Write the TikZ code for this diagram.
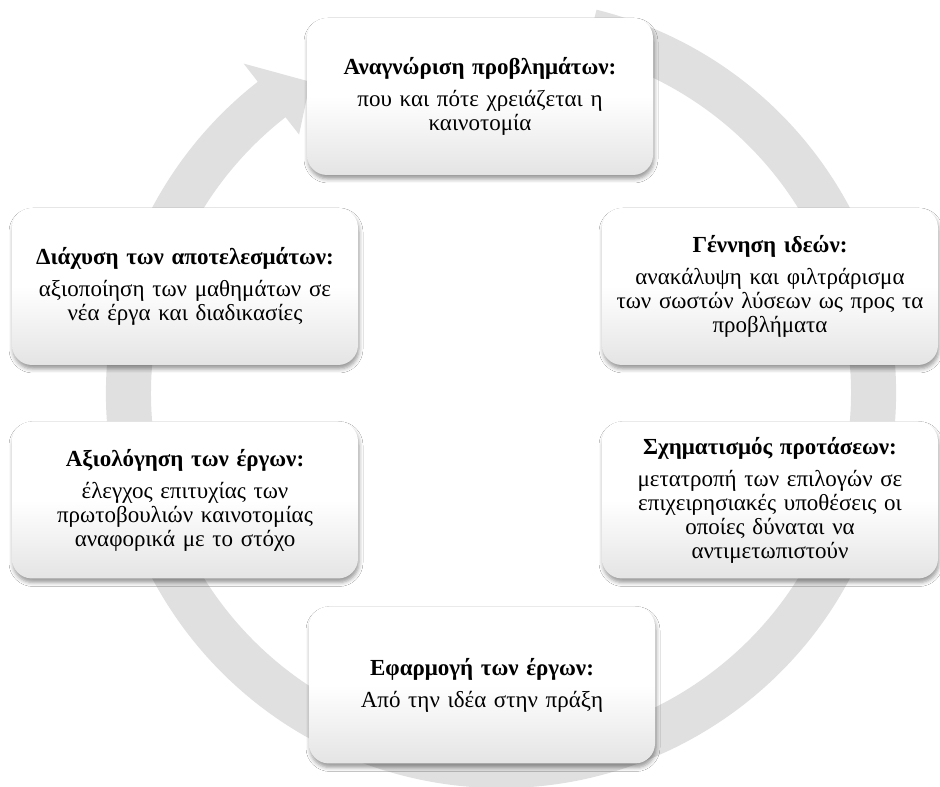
\documentclass[tikz,border=0pt]{standalone}
\usepackage{fontspec}
\setmainfont{Liberation Serif}
\usetikzlibrary{calc,shadows.blur}
\definecolor{ringc}{RGB}{224,224,224}
\definecolor{boxbot}{RGB}{228,228,228}
\tikzset{
  stagebox/.style={rounded corners=20pt, minimum width=346pt, minimum height=157pt,
    text width=334pt, align=center, inner sep=0pt,
    top color=white, bottom color=boxbot, middle color=white,
    blur shadow={shadow xshift=1pt, shadow yshift=-4pt, shadow blur radius=4pt, shadow opacity=40},
    font=\fontsize{23}{24}\selectfont},
  narrowbox/.style={stagebox, minimum width=336pt, text width=330pt},
  ringpart/.style={fill=ringc, draw=none}
}
\newcommand{\stagetitle}[1]{\textbf{#1}\\[8pt]}
\begin{document}
\begin{tikzpicture}[x=1pt,y=1pt]
\useasboundingbox (0,0) rectangle (940,787);
\fill[white] (0,0) rectangle (940,787);
\coordinate (C) at (501,394);
% circular arrow
\fill[ringpart] ($(C)+(76:395)$) arc[start angle=76, end angle=-232, radius=395]
  -- ($(C)+(-232:418)$) -- ($(C)+(-238.5:365)$) -- ($(C)+(-232:328)$)
  -- ($(C)+(-232:350)$) arc[start angle=-232, end angle=76, radius=350] -- cycle;
% stages
\node[stagebox] (top) at (480,690.5) {\stagetitle{Αναγνώριση προβλημάτων:}που και πότε χρειάζεται η\\καινοτομία};
\node[narrowbox] (ru) at (770,500.5) {\stagetitle{Γέννηση ιδεών:}ανακάλυψη και φιλτράρισμα\\των σωστών λύσεων ως προς τα\\προβλήματα};
\node[narrowbox] (rl) at (770,287) {\stagetitle{Σχηματισμός προτάσεων:}μετατροπή των επιλογών σε\\επιχειρησιακές υποθέσεις οι\\οποίες δύναται να\\αντιμετωπιστούν};
\node[stagebox] (bot) at (482,102) {\stagetitle{Εφαρμογή των έργων:}Από την ιδέα στην πράξη};
\node[stagebox] (ll) at (185,287) {\stagetitle{Αξιολόγηση των έργων:}έλεγχος επιτυχίας των\\πρωτοβουλιών καινοτομίας\\αναφορικά με το στόχο};
\node[stagebox] (lu) at (185,500.5) {\stagetitle{Διάχυση των αποτελεσμάτων:}αξιοποίηση των μαθημάτων σε\\νέα έργα και διαδικασίες};
\end{tikzpicture}
\end{document}
